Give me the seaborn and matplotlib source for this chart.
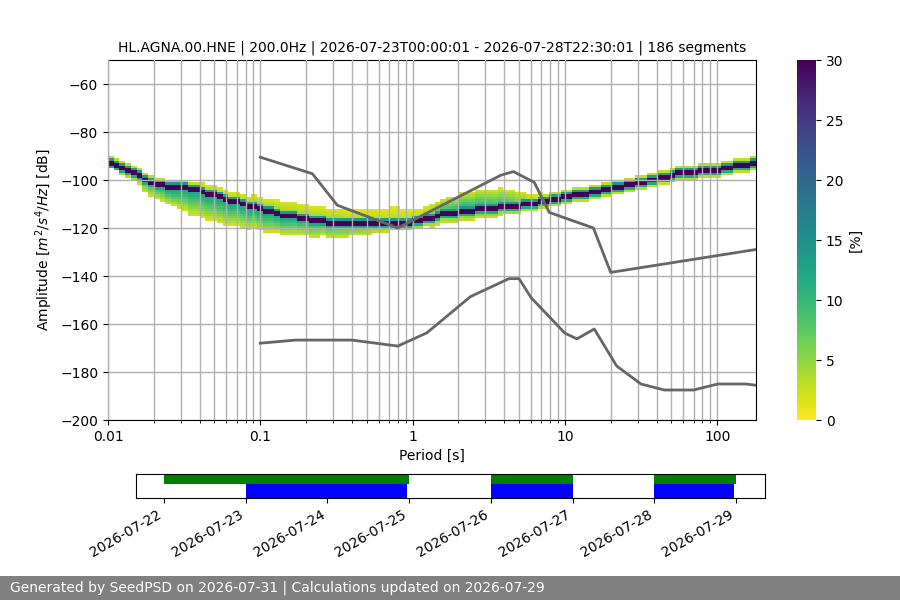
import numpy as np
import pandas as pd
import matplotlib
matplotlib.use("Agg")
import matplotlib.pyplot as plt
import matplotlib.dates as mdates
from matplotlib.patches import Rectangle
import seaborn as sns

# ---------------- data ----------------
title = "HL.AGNA.00.HNE | 200.0Hz | 2026-07-23T00:00:01 - 2026-07-28T22:30:01 | 186 segments"
footer = "Generated by SeedPSD on 2026-07-31 | Calculations updated on 2026-07-29"

# mode (most probable) PSD level of the histogram
mode_periods = [0.01, 0.0157, 0.0203, 0.0263, 0.0335, 0.0433, 0.0561, 0.0714, 0.0924, 0.119,
                0.145, 0.19, 0.32, 0.52, 0.79, 1.11, 1.69, 2.77, 5.1, 9.3, 17, 31, 57, 104, 180]
mode_db = [-92, -97.6, -101, -102.6, -103, -104.7, -106.8, -108.9, -111, -113,
           -114.3, -115.6, -117.7, -118, -117.7, -116.4, -113.5, -111.8, -110.1, -107.2,
           -103.9, -100.5, -96.8, -95.1, -92.4]

# spread of the histogram around the mode (dB below / above) and wing levels (%)
spread_periods = [0.01, 0.015, 0.02, 0.027, 0.034, 0.05, 0.071, 0.1, 0.145, 0.2, 0.3,
                  0.45, 0.6, 0.8, 1.1, 1.5, 2.2, 3.2, 4.5, 6, 9, 180]
spread_below = [2, 3, 6, 8, 11, 11, 10, 9, 8, 7, 6, 5, 4, 3, 3, 4, 4, 4, 3, 3, 3, 3]
spread_above = [2, 2, 2, 2, 2, 3, 3, 4, 5, 5, 5, 5, 5, 6, 4, 5, 7, 7, 6, 3, 2, 2]
wing_below = [2, 3, 7, 10, 10, 10, 10, 10, 9, 8, 7, 6, 4, 3, 3, 3, 4, 4, 3, 2, 2, 2]
wing_above = [2, 2, 2, 2, 2, 2, 2, 3, 3, 3, 3, 2, 2, 2, 2, 6, 9, 8, 6, 2, 2, 2]

# Peterson noise models (acceleration, dB)
nhnm_periods = [0.1, 0.22, 0.32, 0.8, 3.8, 4.6, 6.3, 7.9, 15.4, 20.0, 354.8]
nhnm_db = [-90.5, -97.4, -110.5, -120.0, -98.0, -96.5, -101.0, -113.5, -120.0, -138.5, -126.0]
nlnm_periods = [0.1, 0.17, 0.4, 0.8, 1.24, 2.4, 4.3, 5.0, 6.0, 10.0, 12.0, 15.6, 21.9,
                31.6, 45.0, 70.0, 101.0, 154.0, 328.0]
nlnm_db = [-168.0, -166.7, -166.7, -169.2, -163.7, -148.6, -141.1, -141.1, -149.0, -163.8,
           -166.2, -162.1, -177.5, -185.0, -187.5, -187.5, -185.0, -185.0, -187.5]

# data coverage
avail_start = ["2026-07-22", "2026-07-26", "2026-07-28"]
avail_end = ["2026-07-25", "2026-07-27", "2026-07-29"]
used_start = ["2026-07-23 00:00", "2026-07-26 00:00", "2026-07-28 00:00"]
used_end = ["2026-07-24 23:30", "2026-07-27 00:00", "2026-07-28 23:30"]
date_ticks = ["2026-07-22", "2026-07-23", "2026-07-24", "2026-07-25",
              "2026-07-26", "2026-07-27", "2026-07-28", "2026-07-29"]

cbar_ticks = [0, 5, 10, 15, 20, 25, 30]
y_ticks = [-60, -80, -100, -120, -140, -160, -180, -200]
x_ticks = [0.01, 0.1, 1, 10, 100]
x_ticklabels = ["0.01", "0.1", "1", "10", "100"]

# ---------------- histogram grid ----------------
step = 0.125  # octaves
n_per = int(np.ceil(np.log2(180 / 0.01) / step))
per_edges = 0.01 * 2.0 ** (step * np.arange(n_per + 1))
per_centers = np.sqrt(per_edges[:-1] * per_edges[1:])
db_edges = np.arange(-200, -49, 1.0)
n_db = len(db_edges) - 1

hist = np.zeros((n_db, n_per))
lp = np.log10(per_centers)
m_curve = np.interp(lp, np.log10(mode_periods), mode_db)
lo_c = np.interp(lp, np.log10(spread_periods), spread_below)
hi_c = np.interp(lp, np.log10(spread_periods), spread_above)
wl_c = np.interp(lp, np.log10(spread_periods), wing_below)
wh_c = np.interp(lp, np.log10(spread_periods), wing_above)
for j in range(n_per):
    mb = int(np.floor(m_curve[j] - db_edges[0]))
    lo = int(round(lo_c[j]))
    hi = int(round(hi_c[j]))
    col = {0: 45.0, -1: 35.0, 1: 14.0, -2: 12.0}
    for k in range(2, hi + 1):
        col[k] = wh_c[j] * (1 - (k - 2) / max(hi - 1, 1)) + 1
    for k in range(3, lo + 1):
        col[-k] = wl_c[j] * (1 - (k - 3) / max(lo - 2, 1)) + 1
    for k, v in col.items():
        if 0 <= mb + k < n_db:
            hist[mb + k, j] = v
hist = np.ma.masked_equal(hist, 0)

# ---------------- figure ----------------
fig = plt.figure(figsize=(9, 6), dpi=100)
ax = fig.add_axes([0.12, 0.30, 0.72, 0.60])
cmap = matplotlib.colormaps["viridis_r"]
mesh = ax.pcolormesh(per_edges, db_edges, hist, cmap=cmap, vmin=0, vmax=30, zorder=1)

ax.set_xscale("log")
ax.set_xlim(0.01, 180)
ax.set_ylim(-200, -50)
ax.set_yticks(y_ticks)
ax.set_xticks(x_ticks)
ax.set_xticklabels(x_ticklabels)
ax.grid(True, which="major", axis="both", color="#b0b0b0", lw=1, zorder=2)
ax.grid(True, which="minor", axis="x", color="#b0b0b0", lw=1, zorder=2)
ax.set_axisbelow(False)

sns.lineplot(x=nhnm_periods, y=nhnm_db, ax=ax, color="0.4", lw=2, estimator=None,
             sort=False, legend=False, zorder=5)
sns.lineplot(x=nlnm_periods, y=nlnm_db, ax=ax, color="0.4", lw=2, estimator=None,
             sort=False, legend=False, zorder=5)
ax.set_xlim(0.01, 180)
ax.set_ylim(-200, -50)
ax.set_xlabel("Period [s]", fontsize=10)
ax.set_ylabel(r"Amplitude [$m^2/s^4/Hz$] [dB]", fontsize=10)
ax.set_title(title, fontsize=10)

cax = fig.add_axes([797 / 900, 0.30, 19 / 900, 0.60])
cb = fig.colorbar(mesh, cax=cax, ticks=cbar_ticks)
cb.set_label("[%]", fontsize=10)
cb.outline.set_visible(False)

# coverage timeline
tax = fig.add_axes([136 / 900, 1 - 498 / 600, 629 / 900, 24 / 600])
for s, e in zip(avail_start, avail_end):
    s0 = mdates.date2num(pd.Timestamp(s))
    e0 = mdates.date2num(pd.Timestamp(e))
    tax.broken_barh([(s0, e0 - s0)], (0.6, 0.4), facecolors="green")
for s, e in zip(used_start, used_end):
    s0 = mdates.date2num(pd.Timestamp(s))
    e0 = mdates.date2num(pd.Timestamp(e))
    tax.broken_barh([(s0, e0 - s0)], (0.0, 0.6), facecolors="blue")
t0 = mdates.date2num(pd.Timestamp("2026-07-22")) - 0.343
t1 = mdates.date2num(pd.Timestamp("2026-07-29")) + 0.355
tax.set_xlim(t0, t1)
tax.set_ylim(0, 1)
tax.set_yticks([])
tax.set_xticks([mdates.date2num(pd.Timestamp(d)) for d in date_ticks])
tax.set_xticklabels(date_ticks, rotation=30, ha="right", fontsize=10)

# footer
fig.patches.append(Rectangle((0, 0), 1, 24 / 600, transform=fig.transFigure,
                             facecolor="#808080", edgecolor="none", zorder=0))
fig.text(10 / 900, 12 / 600, footer, color="white", fontsize=10, va="center", ha="left")

fig.savefig("out.png", dpi=100)
